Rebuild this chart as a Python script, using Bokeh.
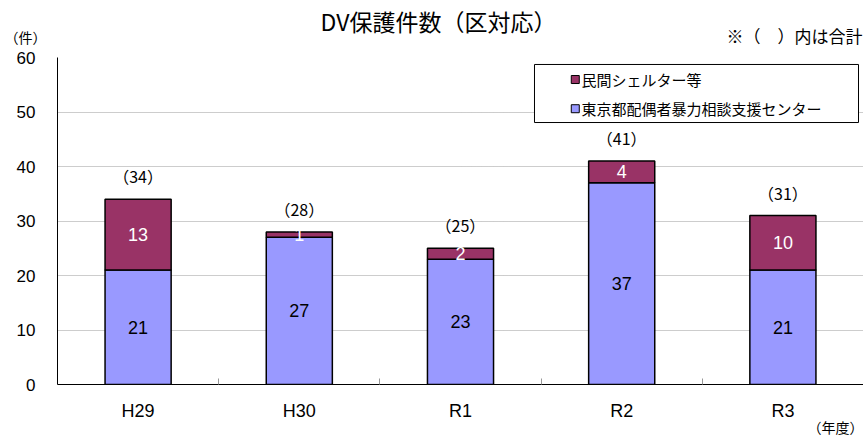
from bokeh.plotting import figure
from bokeh.layouts import column
from bokeh.models import ColumnDataSource, Range1d, FixedTicker, Label, LabelSet, BoxAnnotation, Title
from bokeh.embed import file_html
from bokeh.resources import INLINE
from bokeh.core.properties import value

# ---- data ----
years = ["H29", "H30", "R1", "R2", "R3"]
center = [21, 27, 23, 37, 21]      # 東京都配偶者暴力相談支援センター
shelter = [13, 1, 2, 4, 10]        # 民間シェルター等
y_ticks = [0, 10, 20, 30, 40, 50, 60]

series_names = ["民間シェルター等", "東京都配偶者暴力相談支援センター"]
title_text = "DV保護件数（区対応）"
note_text = "※（　）内は合計"
y_unit = "（件）"
x_unit = "（年度）"

C_CENTER = "#9999FF"
C_SHELTER = "#993366"
JP = "Noto Sans CJK JP"
LAT = "Liberation Sans"

W = 863
HEAD_H = 47
MAIN_H = 435 - HEAD_H

xs = [i + 0.5 for i in range(len(years))]
totals = [a + b for a, b in zip(center, shelter)]

src = ColumnDataSource(dict(
    x=xs,
    center=center,
    shelter=shelter,
    c_mid=[c / 2 for c in center],
    s_mid=[c + s / 2 for c, s in zip(center, shelter)],
    c_txt=[str(c) for c in center],
    s_txt=[str(s) for s in shelter],
    t_y=[t + 4.2 for t in totals],
    t_txt=["（%d）" % t for t in totals],
))

# ---- header strip (pixel coordinates) ----
head = figure(width=W, height=HEAD_H, x_range=Range1d(0, W), y_range=Range1d(HEAD_H, 0),
              output_backend="svg", toolbar_location=None,
              x_axis_location=None, y_axis_location=None,
              min_border=0, frame_align=False)
head.outline_line_color = None
head.xgrid.visible = False
head.ygrid.visible = False
head.add_layout(Label(x=438, y=20, text=title_text, text_align="center",
                      text_baseline="middle", text_font=JP, text_font_size="23px",
                      text_color="black"))
head.add_layout(Label(x=862, y=35, text=note_text, text_align="right",
                      text_baseline="middle", text_font=JP, text_font_size="17px",
                      text_color="black"))
head.add_layout(Label(x=25, y=36, text=y_unit, text_align="center",
                      text_baseline="middle", text_font=JP, text_font_size="14px",
                      text_color="black"))

# ---- main chart ----
p = figure(width=W, height=MAIN_H,
           x_range=Range1d(0, len(years)), y_range=Range1d(0, 60),
           output_backend="svg", toolbar_location=None,
           min_border_left=57, min_border_right=0,
           min_border_top=57 - HEAD_H, min_border_bottom=435 - 384)
p.outline_line_color = None
p.background_fill_color = "white"

p.xgrid.grid_line_color = None
p.ygrid.ticker = FixedTicker(ticks=y_ticks)
p.ygrid.grid_line_color = "#9a9a9a"
p.ygrid.grid_line_dash = "1 1"
p.ygrid.grid_line_width = 1

p.vbar_stack(["center", "shelter"], x="x", width=0.41, source=src,
             fill_color=[C_CENTER, C_SHELTER], line_color="black", line_width=1.5)

p.add_layout(LabelSet(x="x", y="c_mid", text="c_txt", source=src,
                      text_align="center", text_baseline="middle",
                      text_font=value(LAT), text_font_size="18px", text_color="black"))
p.add_layout(LabelSet(x="x", y="s_mid", text="s_txt", source=src,
                      text_align="center", text_baseline="middle",
                      text_font=value(LAT), text_font_size="18px", text_color="white"))
p.add_layout(LabelSet(x="x", y="t_y", text="t_txt", source=src,
                      text_align="center", text_baseline="middle",
                      text_font=value(JP), text_font_size="16px", text_color="black"))

p.yaxis.ticker = FixedTicker(ticks=y_ticks)
p.yaxis.axis_line_color = "black"
p.yaxis.major_tick_line_color = None
p.yaxis.minor_tick_line_color = None
p.yaxis.major_tick_in = 0
p.yaxis.major_tick_out = 0
p.yaxis.major_label_standoff = 22
p.yaxis.major_label_text_font = LAT
p.yaxis.major_label_text_font_size = "17px"
p.yaxis.major_label_text_color = "black"

p.xaxis.ticker = FixedTicker(ticks=xs, minor_ticks=list(range(1, len(years))))
p.xaxis.major_label_overrides = {x: y for x, y in zip(xs, years)}
p.xaxis.axis_line_color = "black"
p.xaxis.major_tick_line_color = None
p.xaxis.major_tick_in = 0
p.xaxis.major_tick_out = 0
p.xaxis.minor_tick_line_color = "#999999"
p.xaxis.minor_tick_in = 6
p.xaxis.minor_tick_out = 0
p.xaxis.major_label_standoff = 16
p.xaxis.major_label_text_font = LAT
p.xaxis.major_label_text_font_size = "18px"
p.xaxis.major_label_text_color = "black"

p.add_layout(Title(text=x_unit, align="right", vertical_align="middle",
                   text_font=JP, text_font_size="14px",
                   text_font_style="normal", text_color="black", standoff=-16), "below")

# legend (manual)
p.add_layout(BoxAnnotation(left=2.959, right=4.969, top=58.72, bottom=48.07,
                           fill_color="white", fill_alpha=1.0,
                           line_color="black", line_width=1, line_alpha=1.0,
                           level="underlay"))
leg_y = [55.96, 50.6]
p.scatter(x=[3.212, 3.212], y=leg_y, marker="square", size=8,
          fill_color=[C_SHELTER, C_CENTER], line_color="black", line_width=1)
for yy, name in zip(leg_y, series_names):
    p.add_layout(Label(x=3.25, y=yy, text=name, text_baseline="middle",
                       text_font=JP, text_font_size="15px", text_color="black"))

layout = column(head, p, spacing=0)
open("out.html", "w").write(file_html(layout, INLINE))
